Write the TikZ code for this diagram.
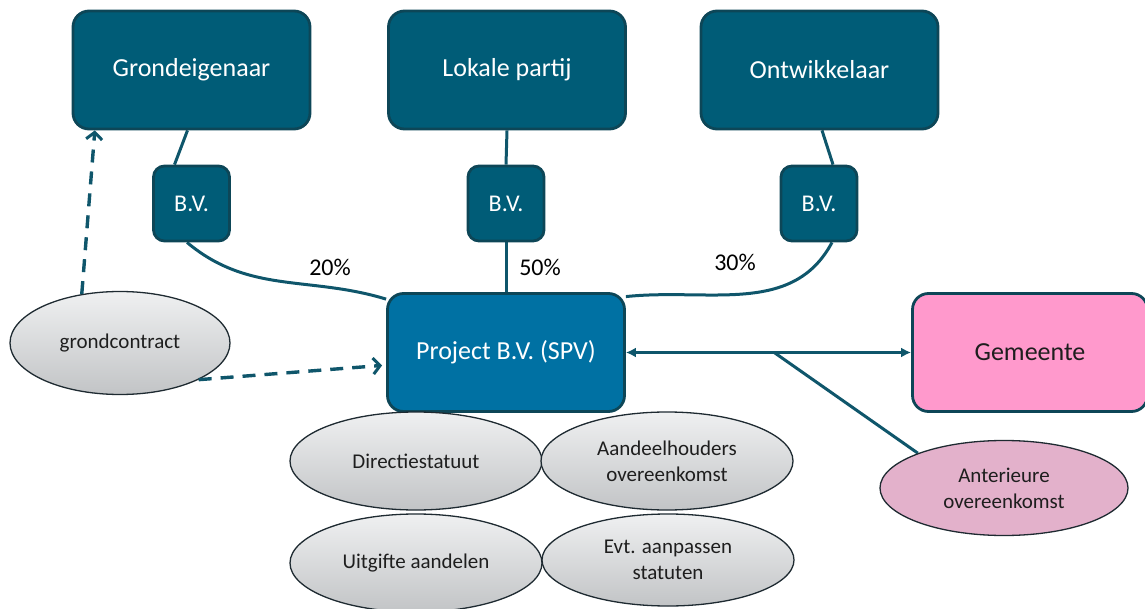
\documentclass[tikz,border=0pt]{standalone}
\usepackage{fontspec}
\setmainfont{Carlito}
\usetikzlibrary{shapes.geometric,arrows.meta,calc,backgrounds}
\definecolor{boxteal}{HTML}{005C77}
\definecolor{edgeteal}{HTML}{0D4657}
\definecolor{projblue}{HTML}{0071A3}
\definecolor{linkteal}{HTML}{0F566B}
\definecolor{gempink}{HTML}{FF99CC}
\definecolor{antpink}{HTML}{E3B1CB}
\definecolor{ovaltop}{HTML}{EFF0F1}
\definecolor{ovalbot}{HTML}{C2C4C6}
\definecolor{ovaledge}{HTML}{1E2A31}
\definecolor{darktext}{HTML}{1E1E1E}
\begin{document}
\begin{tikzpicture}[x=1pt,y=1pt,
  entity/.style={draw=edgeteal, line width=2.8pt, fill=boxteal, rounded corners=16pt,
    text=white, font=\fontsize{26}{30}\selectfont, minimum width=237pt,
    minimum height=118pt, inner sep=0pt},
  bvbox/.style={entity, rounded corners=11pt, minimum width=76pt, minimum height=75pt,
    font=\fontsize{24}{28}\selectfont},
  ovalbase/.style={ellipse, draw=ovaledge, line width=1.3pt, text=darktext,
    align=center, inner sep=0pt, font=\fontsize{21}{26}\selectfont,
    minimum width=252pt, minimum height=98pt},
  oval/.style={ovalbase, top color=ovaltop, bottom color=ovalbot},
  pinkoval/.style={ovalbase, fill=antpink},
  link/.style={draw=linkteal, line width=3pt},
  dlink/.style={link, line width=3.4pt, dash pattern=on 13pt off 9pt,
    -{Straight Barb[length=7pt,width=16pt,line width=3pt]}},
  pct/.style={font=\fontsize{24}{28}\selectfont, text=black}
]
\useasboundingbox (0,0) rectangle (1145,-609);

% owners
\node[entity] (ge) at (191.5,-70) {Grondeigenaar};
\node[entity] (lp) at (507,-70) {Lokale partij};
\node[entity] (ow) at (819.5,-70) {Ontwikkelaar};

% holding companies
\node[bvbox] (bvl) at (191.5,-203.5) {B.V.};
\node[bvbox] (bvm) at (506,-203.5) {B.V.};
\node[bvbox] (bvr) at (819,-203.5) {B.V.};

% project company and municipality
\node[entity, fill=projblue] (proj) at (506,-352.5) {Project B.V. (SPV)};
\node[entity, fill=gempink, text=darktext, minimum width=235pt] (gem) at (1030,-352.5) {Gemeente};

% agreements
\node[oval, minimum width=220pt, minimum height=103pt] (gc) at (120,-343) {grondcontract};
\node[oval] (ds) at (416,-461) {Directiestatuut};
\node[oval] (ao) at (667,-461) {Aandeelhouders\\overeenkomst};
\node[oval] (ua) at (416,-563) {Uitgifte aandelen};
\node[oval, minimum height=92pt] (ea) at (668,-560) {Evt. aanpassen\\statuten};
\node[pinkoval, minimum width=248pt, minimum height=95pt] (ant) at (1004,-488) {Anterieure\\overeenkomst};

% shareholdings
\node[pct] (p20) at (330,-267) {20\%};
\node[pct] (p50) at (540,-267) {50\%};
\node[pct] (p30) at (735,-262) {30\%};

\begin{scope}[on background layer]
  \draw[link] ($(ge.south)+(-4,0)$) -- ($(bvl.north)+(-17,0)$);
  \draw[link] (lp.south) -- (bvm.north);
  \draw[link] ($(ow.south)+(2.5,0)$) -- ($(bvr.north)+(14,0)$);
  \draw[link] ($(bvl.south)+(-4.5,0)$) to[out=-40, in=163] (proj.156);
  \draw[link] (bvm.south) -- (proj.north);
  \draw[link] ($(bvr.south)+(13,0)$) to[out=-118, in=6] (proj.25);
  \draw[link, {Latex[length=10pt,width=10pt]}-{Latex[length=10pt,width=10pt]}] (proj.east) -- coordinate[pos=0.52] (tap) (gem.west);
  \draw[link] (tap) -- (ant.158);
\end{scope}

% land contract references
\draw[dlink] (gc.128) -- (ge.212);
\draw[dlink, shorten >=4pt] (gc.-25) -- (proj.186);
\end{tikzpicture}
\end{document}
